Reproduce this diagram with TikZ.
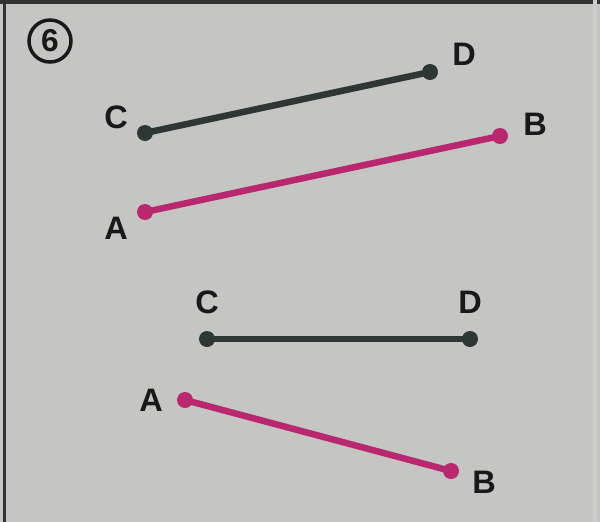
\documentclass[tikz,border=0pt]{standalone}
\usepackage{fontspec}
\setmainfont{Liberation Sans}
\begin{document}
\begin{tikzpicture}[x=0.02cm,y=-0.02cm,
  lbl/.style={font=\fontsize{18.5}{21}\selectfont\bfseries, text=black!90, inner sep=0pt},
  pt/.style={circle, inner sep=0pt, minimum size=16*0.02cm},
  darkseg/.style={line width=6.5*0.02cm, draw=segdark},
  pinkseg/.style={line width=6.5*0.02cm, draw=segpink}]
\definecolor{bg}{RGB}{197,197,196}
\definecolor{segdark}{RGB}{45,55,51}
\definecolor{segpink}{RGB}{185,40,110}
\fill[bg] (0,0) rectangle (600,522);
\useasboundingbox (0,0) rectangle (600,522);
% frame
\draw[line width=4*0.02cm, black!80] (0,2) -- (600,2);
\draw[line width=3*0.02cm, black!80] (4.5,0) -- (4.5,522);
\draw[line width=4*0.02cm, black!20] (595,0) -- (595,522);
% circled 6
\node[circle, draw=black!90, line width=3.5*0.02cm, minimum size=42*0.02cm, inner sep=0pt,
  font=\fontsize{18}{20}\selectfont\bfseries, text=black!90] (num) at (50,41) {6};
% top figure
\node[pt, fill=segdark] (C1) at (145,133) {};
\node[pt, fill=segdark] (D1) at (430,72) {};
\node[pt, fill=segpink] (A1) at (145,212) {};
\node[pt, fill=segpink] (B1) at (500,136) {};
\draw[darkseg] (C1.center) -- (D1.center);
\draw[pinkseg] (A1.center) -- (B1.center);
\node[lbl] (lC1) at (116,117) {C};
\node[lbl] (lD1) at (464,54) {D};
\node[lbl] (lA1) at (116,228) {A};
\node[lbl] (lB1) at (535,124) {B};
% bottom figure
\node[pt, fill=segdark] (C2) at (207,339) {};
\node[pt, fill=segdark] (D2) at (470,339) {};
\node[pt, fill=segpink] (A2) at (185,400) {};
\node[pt, fill=segpink] (B2) at (451,471) {};
\draw[darkseg] (C2.center) -- (D2.center);
\draw[pinkseg] (A2.center) -- (B2.center);
\node[lbl] (lC2) at (207,302) {C};
\node[lbl] (lD2) at (470,302) {D};
\node[lbl] (lA2) at (151,400) {A};
\node[lbl] (lB2) at (484,482) {B};
\end{tikzpicture}
\end{document}
